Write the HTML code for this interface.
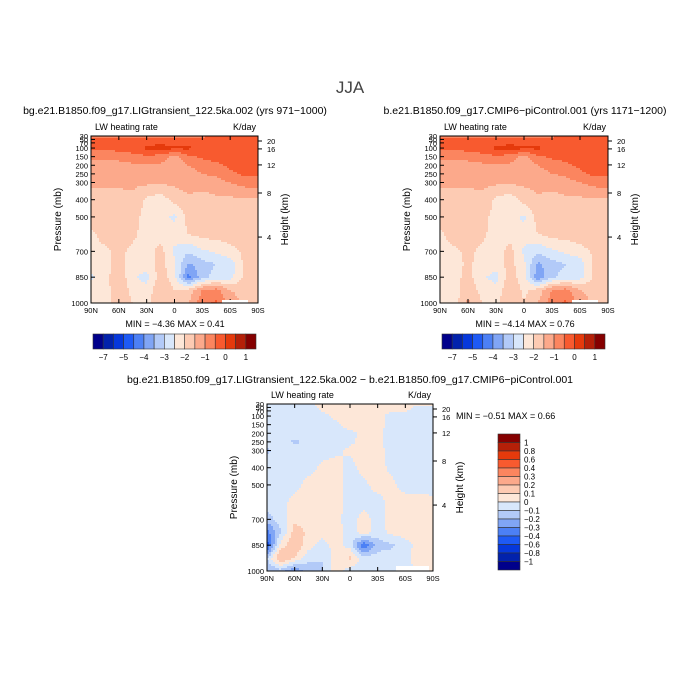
<!DOCTYPE html>
<html><head><meta charset="utf-8"><style>
body{margin:0;background:#fff;width:700px;height:700px;overflow:hidden;position:relative;font-family:"Liberation Sans",sans-serif;color:#000}
svg{position:absolute;left:0;top:0}
</style></head><body>
<svg id="s" width="700" height="700"></svg>
<script>
// ===== Data =====
const lats = ["90N","75N","60N","45N","30N","15N","0","15S","30S","45S","60S","75S","90S"];
const pLevels = [30,50,100,150,200,250,300,400,500,600,700,775,850,925,1000];
const xTicks = ["90N","60N","30N","0","30S","60S","90S"];
const pTicks = [30,50,70,100,150,200,250,300,400,500,700,850,1000];
const hTicks = [20,16,12,8,4];
const hTickP = [59,105,198,361,617];
const levelsAbs = [-7,-6,-5,-4.5,-4,-3.5,-3,-2.5,-2,-1.5,-1,-0.5,0,0.5,1];
const absLabels = ["-7","-5","-4","-3","-2","-1","0","1"];
const absLabelIdx = [1,3,5,7,9,11,13,15];
const levelsDiff = [-1,-0.8,-0.6,-0.4,-0.3,-0.2,-0.1,0,0.1,0.2,0.3,0.4,0.6,0.8,1];
const diffLabels = ["1","0.8","0.6","0.4","0.3","0.2","0.1","0","-0.1","-0.2","-0.3","-0.4","-0.6","-0.8","-1"];
const palette = ["#00008b","#0222ac","#0638dc","#1e5af5","#4c80f5","#80a5f5","#b2caf8","#d8e7fb","#fde7d8","#fdcbb3","#fca98b","#fb855f","#f85a2f","#e53a0c","#b52008","#850000"];
const fieldLIG = [
[-0.8,-0.8,-0.8,-0.7,-0.6,-0.6,-0.6,-0.6,-0.6,-0.5,-0.4,-0.4,-0.4],
[-0.4,-0.4,-0.4,-0.4,-0.3,-0.3,-0.3,-0.3,-0.3,-0.3,-0.3,-0.3,-0.3],
[-0.4,-0.4,-0.3,-0.2,0.1,0.2,0.1,0.1,-0.2,-0.3,-0.3,-0.3,-0.3],
[-0.9,-0.9,-0.8,-0.7,-0.6,-0.7,-1.2,-0.6,-0.4,-0.3,-0.3,-0.3,-0.3],
[-1.2,-1.2,-1.2,-1.1,-1.1,-1.1,-1.3,-1.0,-0.8,-0.6,-0.4,-0.3,-0.3],
[-1.3,-1.3,-1.3,-1.3,-1.3,-1.3,-1.4,-1.2,-1.0,-0.9,-0.6,-0.4,-0.4],
[-1.4,-1.4,-1.4,-1.4,-1.4,-1.4,-1.4,-1.3,-1.3,-1.2,-1.0,-0.8,-0.7],
[-1.7,-1.7,-1.7,-1.6,-2.1,-2.3,-1.8,-1.6,-1.7,-1.6,-1.6,-1.6,-1.6],
[-1.7,-1.7,-1.7,-1.8,-2.2,-2.3,-2.6,-1.8,-1.7,-1.7,-1.7,-1.7,-1.7],
[-2.1,-1.8,-1.7,-1.9,-2.2,-2.2,-2.3,-2.0,-1.8,-1.8,-1.7,-1.7,-1.7],
[-2.2,-2.1,-1.9,-2.1,-2.3,-1.8,-2.6,-2.9,-2.6,-2.4,-2.2,-1.9,-1.8],
[-2.3,-2.2,-1.8,-2.2,-2.3,-1.8,-2.4,-3.6,-3.2,-3.0,-2.8,-1.9,-1.8],
[-2.6,-2.2,-1.6,-2.4,-2.7,-1.7,-2.3,-4.2,-3.2,-2.8,-2.7,-1.9,-1.7],
[-2.3,-2.3,-1.5,-2.2,-2.3,-1.6,-2.0,-1.8,-1.0,-0.8,-1.5,-1.7,-1.6],
[-2.2,-2.3,-1.5,-2.0,-2.2,-1.5,-2.0,-1.5,-0.7,-0.4,-1.2,-1.6,-1.6]];
const fieldPI = [
[-0.8,-0.8,-0.8,-0.7,-0.6,-0.6,-0.6,-0.6,-0.6,-0.5,-0.4,-0.4,-0.4],
[-0.4,-0.4,-0.4,-0.4,-0.3,-0.3,-0.3,-0.3,-0.3,-0.3,-0.3,-0.3,-0.3],
[-0.4,-0.4,-0.3,-0.2,0.1,0.2,0.1,0.1,-0.2,-0.3,-0.3,-0.3,-0.3],
[-0.9,-0.9,-0.8,-0.7,-0.6,-0.7,-1.2,-0.6,-0.4,-0.3,-0.3,-0.3,-0.3],
[-1.2,-1.2,-1.2,-1.1,-1.1,-1.1,-1.3,-1.0,-0.8,-0.6,-0.4,-0.3,-0.3],
[-1.3,-1.3,-1.3,-1.3,-1.3,-1.3,-1.4,-1.2,-1.0,-0.9,-0.6,-0.4,-0.4],
[-1.4,-1.4,-1.4,-1.4,-1.4,-1.4,-1.4,-1.3,-1.3,-1.2,-1.0,-0.8,-0.7],
[-1.7,-1.7,-1.7,-1.6,-2.1,-2.3,-1.8,-1.6,-1.7,-1.6,-1.6,-1.6,-1.6],
[-1.7,-1.7,-1.7,-1.8,-2.2,-2.3,-2.6,-1.8,-1.7,-1.7,-1.7,-1.7,-1.7],
[-2.1,-1.8,-1.7,-1.9,-2.2,-2.2,-2.3,-2.0,-1.8,-1.8,-1.7,-1.7,-1.7],
[-2.1,-2.1,-1.9,-2.1,-2.3,-1.8,-2.6,-2.9,-2.6,-2.4,-2.2,-1.9,-1.8],
[-2.0,-2.2,-1.9,-2.2,-2.3,-1.8,-2.4,-3.6,-3.2,-3.0,-2.8,-1.9,-1.8],
[-2.2,-2.2,-1.8,-2.4,-2.7,-1.7,-2.3,-3.9,-3.1,-2.8,-2.7,-1.9,-1.7],
[-2.2,-2.4,-1.6,-2.2,-2.3,-1.6,-2.1,-1.8,-1.0,-0.8,-1.5,-1.7,-1.6],
[-2.1,-2.2,-1.4,-2.0,-2.2,-1.5,-2.0,-1.5,-0.7,-0.4,-1.2,-1.6,-1.6]];
const fieldDiff = [
[-0.05,-0.05,-0.05,-0.05,0.05,0.05,0.05,0.05,0.05,0.05,0.05,0.05,0.05],
[-0.05,-0.05,-0.05,-0.05,0.03,0.03,0.05,0.05,0.05,0.05,0.05,-0.05,-0.05],
[-0.05,-0.05,-0.05,-0.05,-0.03,0.03,0.05,0.05,0.05,-0.05,-0.05,-0.05,-0.05],
[-0.05,-0.05,-0.05,-0.05,-0.05,-0.03,0.05,0.05,0.05,-0.05,-0.05,-0.05,-0.05],
[-0.05,-0.05,-0.05,-0.05,-0.05,-0.05,-0.03,0.03,0.03,-0.05,-0.05,-0.05,-0.05],
[-0.05,-0.05,-0.12,-0.08,-0.05,-0.05,-0.03,0.05,0.03,-0.05,-0.05,-0.05,-0.05],
[-0.12,-0.05,-0.05,-0.05,-0.05,-0.03,0.03,0.05,0.05,-0.05,-0.05,-0.05,-0.05],
[-0.05,-0.05,-0.05,-0.05,0.03,0.05,-0.05,0.05,0.05,-0.03,-0.05,-0.05,-0.05],
[-0.05,-0.05,-0.05,0.05,0.05,0.05,-0.05,-0.03,0.05,0.03,-0.05,-0.05,-0.05],
[-0.05,-0.05,0.05,0.05,0.05,0.05,-0.05,-0.05,-0.05,0.05,0.05,0.05,0.03],
[-0.15,-0.05,0.08,0.05,0.05,0.03,-0.05,0.05,-0.05,0.05,0.05,0.05,0.05],
[-0.35,-0.1,0.15,0.08,0.05,0.05,-0.05,0.05,-0.05,0.03,0.05,0.05,0.05],
[-0.45,0.05,0.18,0.05,-0.05,0.05,-0.05,-0.4,-0.15,-0.12,-0.05,0.05,0.05],
[-0.1,0.22,0.1,-0.08,-0.1,0.05,0.12,-0.05,-0.05,-0.05,-0.03,0.05,0.05],
[-0.2,-0.15,-0.3,-0.15,-0.1,0.05,-0.05,-0.05,-0.05,-0.05,-0.05,0.03,0.03]];

// ===== Drawing =====
const NS="http://www.w3.org/2000/svg";
const svg=document.getElementById('s');
function mk(tag,attrs,parent){const e=document.createElementNS(NS,tag);for(const k in attrs)e.setAttribute(k,attrs[k]);(parent||svg).appendChild(e);return e;}
function txt(x,y,s,size,anchor,parent,rot){const e=mk('text',{x:x,y:y,'font-size':size,'text-anchor':anchor||'start','font-family':'Liberation Sans, sans-serif',fill:'#000'},parent);if(rot)e.setAttribute('transform','rotate(-90 '+x+' '+y+')');e.textContent=s;return e;}
function levelIdx(v,levels){let i=0;while(i<levels.length&&v>=levels[i])i++;return i;}
function sample(field,fx,p){
  const nx=lats.length-1;let xi=Math.max(0,Math.min(1,fx))*nx;let i0=Math.min(Math.floor(xi),nx-1);const tx=xi-i0;
  let j0=0;while(j0<pLevels.length-2&&p>pLevels[j0+1])j0++;
  const ty=Math.max(0,Math.min(1,(p-pLevels[j0])/(pLevels[j0+1]-pLevels[j0])));
  const a=field[j0][i0],b=field[j0][i0+1],c=field[j0+1][i0],d=field[j0+1][i0+1];
  return (a*(1-tx)+b*tx)*(1-ty)+(c*(1-tx)+d*tx)*ty;
}
function panel(name,X0,Y0,X1,Y1,field,levels){
  const g=mk('g',{});
  const xS=f=>X0+f*(X1-X0);
  const yS=p=>Y0+(p-30)/970*(Y1-Y0);
  const step=2;
  function flush(x0,x1,y,idx){
    const r=mk('rect',{x:x0,y:y,width:x1-x0,height:Math.min(step,Y1-y)+0.3,fill:palette[idx]},g);
    
    
  }
  for(let y=Y0;y<Y1;y+=step){
    const p=30+(y+step/2-Y0)/(Y1-Y0)*970;
    let runStart=X0,runIdx=-1;
    for(let x=X0;x<X1;x+=step){
      const v=sample(field,(x+step/2-X0)/(X1-X0),p);
      const idx=levelIdx(v,levels);
      if(idx!==runIdx){
        if(runIdx>=0)flush(runStart,x,y,runIdx);
        runStart=x;runIdx=idx;
      }
    }
    if(runIdx>=0)flush(runStart,X1,y,runIdx);
  }
  mk('rect',{x:X0,y:Y0,width:X1-X0,height:Y1-Y0,fill:'none',stroke:'#000','stroke-width':1},g);
  xTicks.forEach((t,i)=>{const x=xS(i/(xTicks.length-1));
    mk('line',{x1:x,x2:x,y1:Y1,y2:Y1-4,stroke:'#000'},g);mk('line',{x1:x,x2:x,y1:Y0,y2:Y0+4,stroke:'#000'},g);
    const l=txt(x,Y1+10,t,7.5,'middle',g);});
  pTicks.forEach(p=>{const y=yS(p);mk('line',{x1:X0,x2:X0+4,y1:y,y2:y,stroke:'#000'},g);
    const l=txt(X0-3,y+3,String(p),7.5,'end',g);});
  hTicks.forEach((h,i)=>{const y=yS(hTickP[i]);mk('line',{x1:X1,x2:X1+4,y1:y,y2:y,stroke:'#000'},g);
    const l=txt(X1+9,y+3,String(h),7.5,'start',g);});
  const yt=txt(X0-30,(Y0+Y1)/2,'Pressure (mb)',10,'middle',g,true);
  const yt2=txt(X1+30,(Y0+Y1)/2,'Height (km)',10,'middle',g,true);
  const lw=txt(X0+4,Y0-6,'LW heating rate',9,'start',g);
  const un=txt(X1-2,Y0-6,'K/day',9,'end',g);
}
function hbar(name,X0,Y0,W,H){
  const g=mk('g',{});
  const bw=W/palette.length;
  palette.forEach((c,i)=>{const r=mk('rect',{x:X0+i*bw,y:Y0,width:bw,height:H,fill:c,stroke:'#333','stroke-width':0.6},g);
    });
  absLabels.forEach((s,k)=>{const l=txt(X0+absLabelIdx[k]*bw,Y0+H+11,s.replace('-','\u2212'),8,'middle',g);
    });
}
function vbar(name,X0,Y0,W,H){
  const g=mk('g',{});
  const bh=H/palette.length;
  palette.slice().reverse().forEach((c,i)=>{const r=mk('rect',{x:X0,y:Y0+i*bh,width:W,height:bh,fill:c,stroke:'#333','stroke-width':0.6},g);
    });
  diffLabels.forEach((s,i)=>{const l=txt(X0+W+4,Y0+(i+1)*bh+3,s.replace('-','\u2212'),8,'start',g);
    });
}
panel('lig-panel',91,136,258,303,fieldLIG,levelsAbs);
panel('picontrol-panel',440,136,608,303,fieldPI,levelsAbs);
panel('difference-panel',267,404,433,571,fieldDiff,levelsDiff);
mk('rect',{x:222,y:300,width:26,height:2.5,fill:'#fff'});
mk('rect',{x:572,y:300,width:26,height:2.5,fill:'#fff'});
mk('rect',{x:396,y:566,width:33,height:4.5,fill:'#fff'});
hbar('colorbar-lig',93,334,163,15);
hbar('colorbar-picontrol',442,334,163,15);
vbar('colorbar-diff',498,434,22,136);
function T(x,y,s,size,anchor,name,color){const l=txt(x,y,s,size,anchor);if(color)l.setAttribute('fill',color);}
T(350,93,'JJA',17,'middle','figure-title','#444');
T(175,114,'bg.e21.B1850.f09_g17.LIGtransient_122.5ka.002 (yrs 971\u22121000)',10.5,'middle','left-panel-title');
T(525,114,'b.e21.B1850.f09_g17.CMIP6\u2212piControl.001 (yrs 1171\u22121200)',10.5,'middle','right-panel-title');
T(175,327,'MIN =   \u22124.36   MAX =    0.41',9,'middle','left-minmax');
T(525,327,'MIN =   \u22124.14   MAX =    0.76',9,'middle','right-minmax');
T(350,383,'bg.e21.B1850.f09_g17.LIGtransient_122.5ka.002 \u2212 b.e21.B1850.f09_g17.CMIP6\u2212piControl.001',10.5,'middle','difference-title');
T(456,419,'MIN =  \u22120.51   MAX =   0.66',9,'start','difference-minmax');
</script>
</body></html>
